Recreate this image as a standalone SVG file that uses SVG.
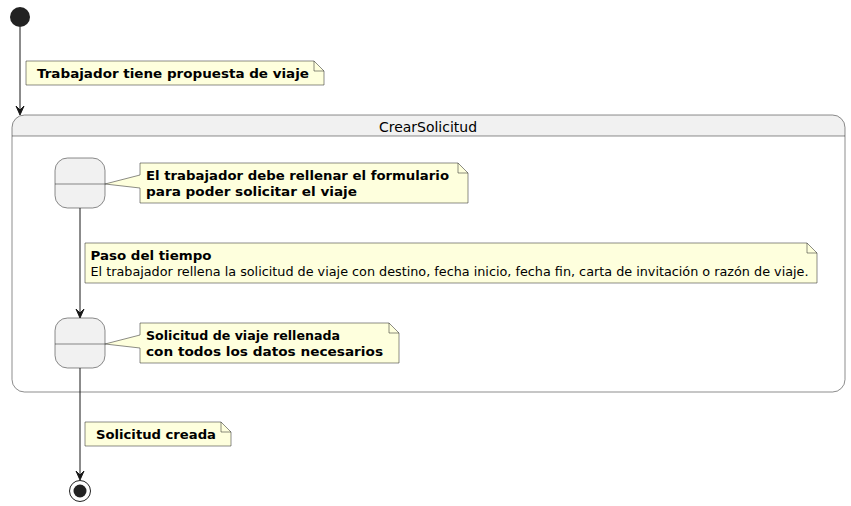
<svg xmlns="http://www.w3.org/2000/svg" width="851" height="506" viewBox="0 0 851 506">
<style>
.note{fill:#FEFFDD;stroke:#181818;stroke-width:0.5}
.st{fill:#F1F1F1;stroke:#181818;stroke-width:0.5}
.ln{stroke:#181818;stroke-width:0.5;fill:none}
.edge{stroke:#181818;stroke-width:1;fill:none}
.ah{fill:#181818;stroke:#181818;stroke-width:1}
text{font-family:"DejaVu Sans",sans-serif;font-size:13px;fill:#000}
.b{font-weight:bold}
</style>
<rect width="851" height="506" fill="#FFFFFF"/>
<g id="start"><circle cx="20" cy="17" r="10" fill="#222222"/></g>
<g id="CrearSolicitud">
<path d="M24.5,115 L832.5,115 A12.5,12.5 0 0 1 845,127.5 L845,379.5 A12.5,12.5 0 0 1 832.5,392 L24.5,392 A12.5,12.5 0 0 1 12,379.5 L12,127.5 A12.5,12.5 0 0 1 24.5,115 Z" fill="#FFFFFF" stroke="none"/>
<path d="M24.5,115 L832.5,115 A12.5,12.5 0 0 1 845,127.5 L845,136 L12,136 L12,127.5 A12.5,12.5 0 0 1 24.5,115 Z" fill="#F1F1F1" stroke="none"/>
<path d="M24.5,115 L832.5,115 A12.5,12.5 0 0 1 845,127.5 L845,379.5 A12.5,12.5 0 0 1 832.5,392 L24.5,392 A12.5,12.5 0 0 1 12,379.5 L12,127.5 A12.5,12.5 0 0 1 24.5,115 Z" class="ln"/>
<line x1="12" y1="136" x2="845" y2="136" class="ln"/>
<text x="379" y="132" style="font-size:14px" textLength="98" lengthAdjust="spacingAndGlyphs">CrearSolicitud</text>
</g>
<g id="state1">
<rect x="55" y="158" width="50" height="50" rx="12.5" ry="12.5" class="st"/>
<line x1="55" y1="184" x2="105" y2="184" class="ln"/>
</g>
<g id="state2">
<rect x="55" y="318" width="50" height="50" rx="12.5" ry="12.5" class="st"/>
<line x1="55" y1="344" x2="105" y2="344" class="ln"/>
</g>
<g id="end"><circle cx="80" cy="491" r="10.5" fill="none" stroke="#222222" stroke-width="1"/><circle cx="80" cy="491" r="6.5" fill="#222222"/></g>
<g id="note1">
<path d="M26,61 L314,61 L324,71 L324,85 L26,85 Z" class="note"/>
<path d="M314,61 L314,71 L324,71" class="ln"/>
<text x="37" y="78" class="b" textLength="272" lengthAdjust="spacingAndGlyphs">Trabajador tiene propuesta de viaje</text>
</g>
<g id="note2">
<path d="M140,163 L458,163 L468,173 L468,203 L140,203 L140,188 L105,184 L140,175 Z" class="note"/>
<path d="M458,163 L458,173 L468,173" class="ln"/>
<text x="146" y="180" class="b" textLength="303" lengthAdjust="spacingAndGlyphs">El trabajador debe rellenar el formulario</text>
<text x="146" y="196" class="b" textLength="211" lengthAdjust="spacingAndGlyphs">para poder solicitar el viaje</text>
</g>
<g id="note3">
<path d="M85,243 L807,243 L817,253 L817,283 L85,283 Z" class="note"/>
<path d="M807,243 L807,253 L817,253" class="ln"/>
<text x="90.5" y="260" class="b" textLength="121" lengthAdjust="spacingAndGlyphs">Paso del tiempo</text>
<text x="90.5" y="276" textLength="718" lengthAdjust="spacingAndGlyphs">El trabajador rellena la solicitud de viaje con destino, fecha inicio, fecha fin, carta de invitación o razón de viaje.</text>
</g>
<g id="note4">
<path d="M140,323 L389,323 L399,333 L399,363 L140,363 L140,348 L105,344 L140,335 Z" class="note"/>
<path d="M389,323 L389,333 L399,333" class="ln"/>
<text x="146" y="340" class="b" textLength="194" lengthAdjust="spacingAndGlyphs">Solicitud de viaje rellenada</text>
<text x="146" y="356" class="b" textLength="237" lengthAdjust="spacingAndGlyphs">con todos los datos necesarios</text>
</g>
<g id="note5">
<path d="M85,422 L221,422 L231,432 L231,446 L85,446 Z" class="note"/>
<path d="M221,422 L221,432 L231,432" class="ln"/>
<text x="96" y="439" class="b" textLength="120" lengthAdjust="spacingAndGlyphs">Solicitud creada</text>
</g>
<g id="connectors">
<line x1="20" y1="27" x2="20" y2="110" class="edge"/>
<polygon points="16,106 20,115 24,106 20,110" class="ah"/>
<line x1="80" y1="208" x2="80" y2="313" class="edge"/>
<polygon points="76,309 80,318 84,309 80,313" class="ah"/>
<line x1="80" y1="368" x2="80" y2="475" class="edge"/>
<polygon points="76,471 80,480 84,471 80,475" class="ah"/>
</g>
</svg>
